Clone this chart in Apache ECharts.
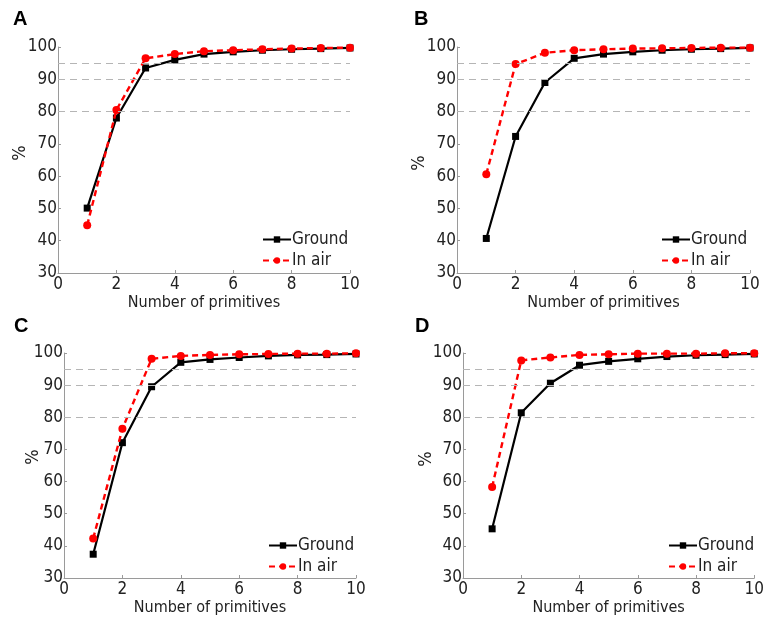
<!DOCTYPE html>
<html>
<head>
<meta charset="utf-8">
<script src="https://cdn.jsdelivr.net/npm/echarts@6/dist/echarts.min.js"></script>
<style>html,body{margin:0;padding:0;background:#fff;}#c{width:767px;height:617px;}</style>
</head>
<body>
<div id="c"></div>
<script>
const primitives = [1,2,3,4,5,6,7,8,9,10];
const panelLabels = ['A','B','C','D'];
const yName = '%';
const xName = 'Number of primitives';
const groundA = [50.1, 78.0, 93.5, 96.0, 97.8, 98.5, 99.0, 99.3, 99.5, 99.7];
const airA    = [44.8, 80.5, 96.5, 97.8, 98.7, 99.0, 99.3, 99.5, 99.7, 99.8];
const groundB = [40.7, 72.3, 89.0, 96.5, 97.8, 98.5, 99.0, 99.3, 99.5, 99.7];
const airB    = [60.6, 94.7, 98.2, 99.0, 99.3, 99.5, 99.6, 99.7, 99.8, 99.8];
const groundC = [37.4, 72.1, 89.5, 97.1, 98.0, 98.6, 99.1, 99.4, 99.5, 99.7];
const airC    = [42.3, 76.4, 98.2, 99.1, 99.4, 99.6, 99.7, 99.8, 99.8, 99.9];
const groundD = [45.3, 81.4, 90.6, 96.2, 97.4, 98.2, 98.9, 99.3, 99.5, 99.7];
const airD    = [58.3, 97.7, 98.6, 99.4, 99.6, 99.8, 99.8, 99.8, 99.9, 99.9];
const refLines = [80, 90, 95];
const xTicks = [0, 2, 4, 6, 8, 10];
const yTicks = [30, 40, 50, 60, 70, 80, 90, 100];

const groundSets = [groundA, groundB, groundC, groundD];
const airSets = [airA, airB, airC, airD];

const grids = [
  {left: 58, top: 47, width: 292, height: 226},
  {left: 457, top: 47, width: 293, height: 226},
  {left: 64, top: 353, width: 292, height: 226},
  {left: 463, top: 353, width: 292, height: 226}
];
const legendPos = [
  {left: 262, top: 231},
  {left: 661, top: 231},
  {left: 268, top: 537},
  {left: 668, top: 537}
];
const titlePos = [
  {left: 13, top: 9},
  {left: 414, top: 9},
  {left: 14, top: 316},
  {left: 415, top: 316}
];
const yNamePos = [[20, 153], [419, 163], [33, 457], [426, 459]];
const font = '"DejaVu Sans Condensed", "DejaVu Sans"';
const axisColor = '#9a9a9a';

const xAxes = grids.map((g, i) => ({
  gridIndex: i, type: 'value', min: xTicks[0], max: xTicks[xTicks.length-1], interval: 2,
  name: xName, nameLocation: 'middle', nameGap: 22,
  nameTextStyle: {fontFamily: font, fontSize: 16, color: '#222'},
  axisLine: {show: true, lineStyle: {color: axisColor, width: 1}},
  axisTick: {show: true, inside: true, length: 3, lineStyle: {color: axisColor}},
  axisLabel: {fontFamily: font, fontSize: 17, color: '#222', margin: 3},
  splitLine: {show: false}
}));
const yAxes = grids.map((g, i) => ({
  gridIndex: i, type: 'value', min: yTicks[0], max: yTicks[yTicks.length-1], interval: 10,
  axisLine: {show: true, lineStyle: {color: axisColor, width: 1}},
  axisTick: {show: true, inside: true, length: 3, lineStyle: {color: axisColor}},
  axisLabel: {fontFamily: font, fontSize: 17, color: '#222', margin: 1},
  splitLine: {show: false}
}));

const series = [];
grids.forEach((g, i) => {
  series.push({
    name: 'Ground', type: 'line', xAxisIndex: i, yAxisIndex: i,
    data: primitives.map((p, k) => [p, groundSets[i][k]]),
    symbol: 'rect', symbolSize: 7,
    lineStyle: {color: '#000', width: 2.2},
    itemStyle: {color: '#000'},
    z: 3,
    markLine: {
      silent: true, symbol: 'none', label: {show: false},
      lineStyle: {color: '#b5b5b5', type: [7, 5], width: 1.2},
      data: refLines.map(v => ({yAxis: v})),
      animation: false
    },
    animation: false
  });
  series.push({
    name: 'In air', type: 'line', xAxisIndex: i, yAxisIndex: i,
    data: primitives.map((p, k) => [p, airSets[i][k]]),
    symbol: 'circle', symbolSize: 8,
    lineStyle: {color: '#ff0000', width: 2.4, type: [6, 4]},
    itemStyle: {color: '#ff0000'},
    z: 4,
    animation: false
  });
});

const option = {
  backgroundColor: '#fff',
  animation: false,
  title: panelLabels.map((t, i) => ({
    text: t, left: titlePos[i].left, top: titlePos[i].top, padding: 0,
    textStyle: {fontFamily: 'Liberation Sans', fontWeight: 'bold', fontSize: 20, color: '#000'}
  })),
  graphic: yNamePos.map(p => ({
    type: 'text', x: p[0], y: p[1], rotation: Math.PI / 2,
    style: {text: yName, font: '18px "DejaVu Sans Condensed", "DejaVu Sans"', fill: '#222',
            align: 'center', verticalAlign: 'middle'}
  })),
  grid: grids,
  xAxis: xAxes,
  yAxis: yAxes,
  legend: legendPos.map((p, i) => ({
    orient: 'vertical', left: p.left, top: p.top, padding: 0,
    itemWidth: 28, itemHeight: 8, itemGap: 4,
    textStyle: {fontFamily: font, fontSize: 17, color: '#222', padding: [0,0,0,-4]},
    data: ['Ground', 'In air']
  })),
  series: series
};
const chart = echarts.init(document.getElementById('c'), null, {renderer: 'canvas'});
chart.setOption(option);
</script>
</body>
</html>
